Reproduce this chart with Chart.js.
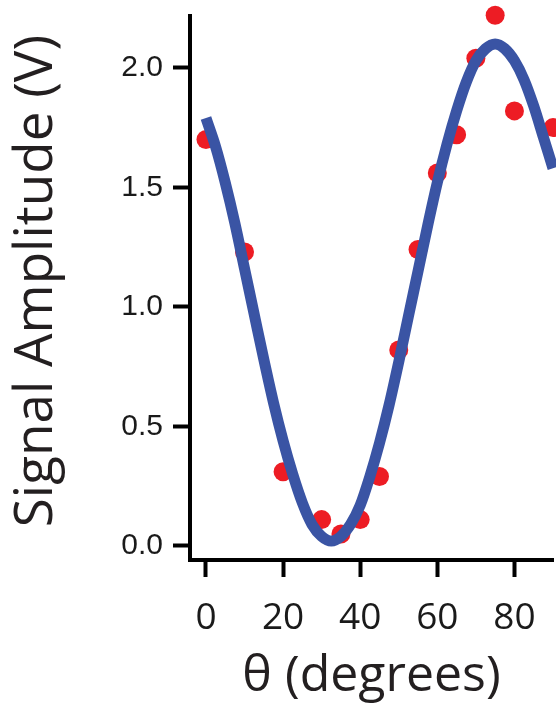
<!DOCTYPE html>
<html>
<head>
<meta charset="utf-8">
<script src="https://cdn.jsdelivr.net/npm/chart.js@4"></script>
<style>
  html, body { margin: 0; padding: 0; background: #fff; }
  #wrap { width: 556px; height: 711px; }
</style>
</head>
<body>
<div id="wrap"><canvas id="signalChart"></canvas></div>
<script>
// measured points
const angles = [0, 10, 20, 30, 35, 40, 45, 50, 55, 60, 65, 70, 75, 80, 90];
const amplitudes = [1.70, 1.23, 0.31, 0.11, 0.05, 0.11, 0.29, 0.82, 1.24, 1.56, 1.72, 2.04, 2.22, 1.82, 1.75];

// fitted curve, every 2.5 degrees
const fitAngles = [0, 2.5, 5, 7.5, 10, 12.5, 15, 17.5, 20, 22.5, 25, 27.5, 30, 32.5, 35, 37.5, 40, 42.5, 45,
  47.5, 50, 52.5, 55, 57.5, 60, 62.5, 65, 67.5, 70, 72.5, 75, 77.5, 80, 82.5, 85, 87.5, 90];
const fitAmplitudes = [1.79, 1.67, 1.52, 1.35, 1.16, 0.97, 0.78, 0.60, 0.44, 0.30, 0.18, 0.09, 0.04, 0.02, 0.04,
  0.09, 0.17, 0.29, 0.43, 0.59, 0.77, 0.96, 1.15, 1.34, 1.52, 1.68, 1.82, 1.94, 2.03, 2.08, 2.10, 2.08, 2.03,
  1.95, 1.84, 1.71, 1.58];

const xTicks = [0, 20, 40, 60, 80];
const yTicks = [0, 0.5, 1.0, 1.5, 2.0];

const toXY = (xs, ys) => xs.map((x, i) => ({x: x, y: ys[i]}));

// keep the plot area where the reference has it, labels may hang over
const noPadding = s => {
  s.paddingLeft = 0; s.paddingRight = 0; s.paddingTop = 0; s.paddingBottom = 0;
};

const chartID = document.getElementById("signalChart");

var chart = new Chart(chartID, {
  type: 'scatter',
  data: {
    datasets: [{
      data: toXY(fitAngles, fitAmplitudes),
      showLine: true,
      borderColor: '#3a54a4',
      borderWidth: 11,
      pointRadius: 0,
      cubicInterpolationMode: 'monotone',
      clip: false
    }, {
      data: toXY(angles, amplitudes),
      backgroundColor: '#ed1c24',
      borderWidth: 0,
      pointRadius: 9.5,
      clip: false
    }]
  },
  options: {
    responsive: true,
    maintainAspectRatio: false,
    animation: false,
    layout: {
      autoPadding: false,
      padding: {left: 0, top: 16, right: 3, bottom: 0}
    },
    plugins: {
      legend: {display: false},
      tooltip: {enabled: false}
    },
    scales: {
      x: {
        type: 'linear',
        min: -4.14,
        max: 90,
        afterBuildTicks: s => { s.ticks = xTicks.map(v => ({value: v})); },
        afterFit: s => { s.height = 151; noPadding(s); },
        grid: {drawOnChartArea: false, tickLength: 17, tickWidth: 4, tickColor: '#000'},
        border: {display: true, color: '#000', width: 4},
        ticks: {
          font: {family: 'Open Sans', size: 37},
          color: '#1a1a1a',
          padding: 19,
          maxRotation: 0
        },
        title: {
          display: true,
          text: 'θ (degrees)',
          font: {family: 'Open Sans', size: 50},
          color: '#231f20',
          padding: {top: 0, bottom: 4}
        }
      },
      y: {
        min: -0.059,
        max: 2.217,
        afterBuildTicks: s => { s.ticks = yTicks.map(v => ({value: v})); },
        afterFit: s => { s.width = 190; noPadding(s); },
        grid: {drawOnChartArea: false, tickLength: 17, tickWidth: 4, tickColor: '#000'},
        border: {display: true, color: '#000', width: 4},
        ticks: {
          font: {family: 'Liberation Sans', size: 30},
          color: '#1a1a1a',
          padding: 10,
          callback: v => v.toFixed(1)
        },
        title: {
          display: true,
          text: ' Signal Amplitude (V)',
          font: {family: 'Open Sans', size: 53},
          color: '#231f20',
          padding: {top: 5, bottom: 0}
        }
      }
    }
  }
});
</script>
</body>
</html>
